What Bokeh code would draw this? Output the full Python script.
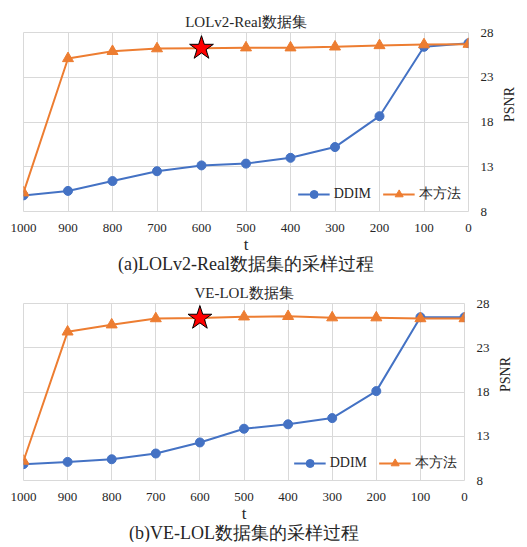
import math
from bokeh.plotting import figure
from bokeh.models import Range1d, FixedTicker, Title, Legend, LegendItem
from bokeh.layouts import column
from bokeh.embed import file_html
from bokeh.resources import INLINE

# ---- data ----
t_steps = [1000, 900, 800, 700, 600, 500, 400, 300, 200, 100, 0]
ddim_lol = [9.8, 10.3, 11.4, 12.5, 13.15, 13.35, 14.0, 15.2, 18.65, 26.4, 26.8]
ours_lol = [10.1, 25.1, 25.9, 26.2, 26.25, 26.3, 26.3, 26.4, 26.55, 26.65, 26.7]
ddim_ve = [9.85, 10.1, 10.4, 11.05, 12.3, 13.85, 14.35, 15.05, 18.1, 26.45, 26.45]
ours_ve = [10.2, 24.8, 25.6, 26.3, 26.35, 26.5, 26.55, 26.4, 26.4, 26.3, 26.3]
best_t = 600
y_ticks = [8, 13, 18, 23, 28]
series_names = ["DDIM", "本方法"]
titles = ["LOLv2-Real数据集", "VE-LOL数据集"]
captions = ["(a)LOLv2-Real数据集的采样过程", "(b)VE-LOL数据集的采样过程"]

BLUE = "#4472C4"
ORANGE = "#ED7D31"
GRID = "#d9d9d9"
TXT = "#262626"
FONT = "Liberation Serif"


def make_panel(title_text, caption, ddim, ours, width, height, left, top, bottom):
    p = figure(width=width, height=height, x_range=Range1d(1000, 0), y_range=Range1d(8, 28),
               output_backend="svg", toolbar_location=None, y_axis_location="right",
               min_border_left=left, min_border_right=0, min_border_top=top,
               min_border_bottom=bottom)
    p.title.text = title_text
    p.title.align = "center"
    p.title.text_font = FONT
    p.title.text_font_size = "15px"
    p.title.text_font_style = "normal"
    p.title.text_color = TXT
    p.title.standoff = 5
    p.outline_line_color = GRID
    p.background_fill_color = "white"
    p.border_fill_color = "white"

    p.xaxis.ticker = FixedTicker(ticks=t_steps)
    p.yaxis.ticker = FixedTicker(ticks=y_ticks)
    for ax in (p.xaxis[0], p.yaxis[0]):
        ax.axis_line_color = None
        ax.major_tick_line_color = None
        ax.minor_tick_line_color = None
        ax.major_tick_out = 0
        ax.major_tick_in = 0
        ax.minor_tick_out = 0
        ax.minor_tick_in = 0
        ax.major_label_text_font = FONT
        ax.major_label_text_font_size = "13px"
        ax.major_label_text_color = TXT
        ax.axis_label_text_font = FONT
        ax.axis_label_text_font_style = "normal"
        ax.axis_label_text_color = TXT
    p.xaxis.axis_label = "t"
    p.xaxis.axis_label_text_font_size = "17px"
    p.xaxis.major_label_standoff = 12
    p.xaxis.axis_label_standoff = 0
    p.yaxis.axis_label = "PSNR"
    p.yaxis.axis_label_orientation = math.pi / 2
    p.yaxis.axis_label_text_font_size = "14px"
    p.yaxis.major_label_standoff = 12
    p.yaxis.axis_label_standoff = 13
    p.xgrid.grid_line_color = GRID
    p.ygrid.grid_line_color = GRID

    l1 = p.line(t_steps, ddim, line_color=BLUE, line_width=2)
    s1 = p.scatter(t_steps, ddim, marker="circle", size=9, fill_color=BLUE, line_color=BLUE)
    l2 = p.line(t_steps, ours, line_color=ORANGE, line_width=2)
    s2 = p.scatter(t_steps, ours, marker="triangle", size=11, fill_color=ORANGE, line_color=ORANGE)
    bi = t_steps.index(best_t)
    p.scatter([best_t], [ours[bi]], marker="star", size=25, fill_color="#FF0000",
              line_color="black", line_width=1)

    legend = Legend(items=[LegendItem(label=series_names[0], renderers=[l1, s1]),
                           LegendItem(label=series_names[1], renderers=[l2, s2])],
                    orientation="horizontal", location="bottom_right",
                    border_line_color=None, background_fill_alpha=0,
                    label_text_font=FONT, label_text_font_size="14px", label_text_color=TXT,
                    glyph_width=32, label_standoff=4, spacing=12, padding=0, margin=7)
    p.add_layout(legend)

    p.add_layout(Title(text=caption, align="center", text_font=FONT, text_font_size="18px",
                       text_font_style="normal", text_color=TXT, standoff=-10), "below")
    return p


p1 = make_panel(titles[0], captions[0], ddim_lol, ours_lol, 527, 275, 22, 32, 64)
p2 = make_panel(titles[1], captions[1], ddim_ve, ours_ve, 523, 267, 23, 28, 62)
layout = column(p1, p2, spacing=0)

open("out.html", "w").write(file_html(layout, INLINE))
